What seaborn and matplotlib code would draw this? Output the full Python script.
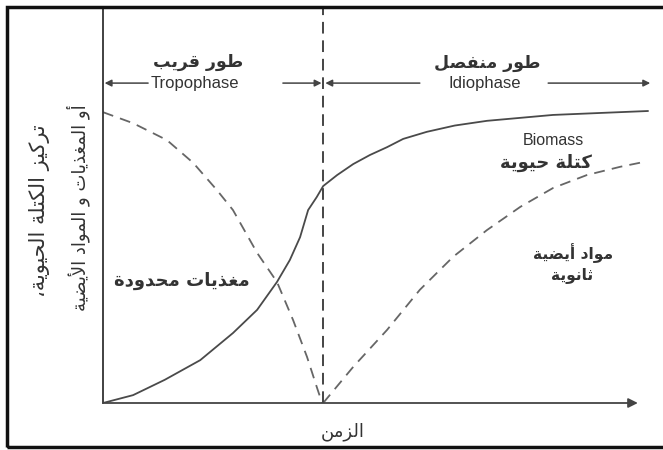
import numpy as np
import pandas as pd
import seaborn as sns
import matplotlib
matplotlib.use("Agg")
import matplotlib.pyplot as plt
from matplotlib.patches import Rectangle

# ---------------- data ----------------
# time axis: 0 .. ~10 (arbitrary units), concentration: 0 .. ~100
nutrient_t = [0.00, 0.56, 1.19, 1.68, 2.12, 2.42, 2.87, 3.24, 3.54, 3.80, 3.98, 4.08]
nutrient_c = [74.0, 71.2, 66.9, 61.1, 54.2, 49.1, 38.2, 30.8, 21.1, 11.7, 4.1, 0.0]

biomass_t = [0.00, 0.56, 1.15, 1.81, 2.42, 2.87, 3.24, 3.48, 3.67, 3.82, 3.98, 4.10,
             4.36, 4.66, 4.97, 5.29, 5.59, 6.03, 6.55, 7.15, 8.38, 9.26, 10.15]
biomass_c = [0.0, 2.0, 5.9, 10.9, 17.8, 23.7, 30.8, 36.4, 42.2, 49.1, 52.4, 55.2,
             58.0, 60.8, 63.1, 65.1, 67.2, 69.0, 70.6, 71.8, 73.3, 73.8, 74.3]

secondary_t = [4.10, 4.66, 5.29, 5.90, 6.52, 7.15, 7.77, 8.38, 9.01, 9.63, 10.06]
secondary_c = [0.0, 9.2, 18.6, 28.8, 37.2, 44.0, 49.9, 54.7, 58.0, 60.1, 61.3]

phase_boundary = 4.10

label_tropo_ar = "طور قريب"
label_tropo_en = "Tropophase"
label_idio_ar = "طور منفصل"
label_idio_en = "Idiophase"
label_biomass_en = "Biomass"
label_biomass_ar = "كتلة حيوية"
label_nutrient_ar = "مغذيات محدودة"
label_secondary_ar = ["مواد أيضية", "ثانوية"]
xlabel_ar = "الزمن"
ylabel_ar = ["تركيز الكتلة الحيوية،", "أو المغذيات و المواد الأيضية"]

# ---------------- minimal Arabic shaping (presentation forms) ----------------
DUAL = {'ب': 0xFE8F, 'ت': 0xFE95, 'ث': 0xFE99, 'ج': 0xFE9D, 'ح': 0xFEA1, 'خ': 0xFEA5,
        'س': 0xFEB1, 'ش': 0xFEB5, 'ص': 0xFEB9, 'ض': 0xFEBD, 'ط': 0xFEC1, 'ظ': 0xFEC5,
        'ع': 0xFEC9, 'غ': 0xFECD, 'ف': 0xFED1, 'ق': 0xFED5, 'ك': 0xFED9, 'ل': 0xFEDD,
        'م': 0xFEE1, 'ن': 0xFEE5, 'ه': 0xFEE9, 'ي': 0xFEF1}
RIGHT = {'ا': 0xFE8D, 'أ': 0xFE83, 'إ': 0xFE87, 'آ': 0xFE81, 'د': 0xFEA9, 'ذ': 0xFEAB,
         'ر': 0xFEAD, 'ز': 0xFEAF, 'و': 0xFEED, 'ة': 0xFE93}
LAMALEF = {'آ': 0xFEF5, 'أ': 0xFEF7, 'إ': 0xFEF9, 'ا': 0xFEFB}


def shape(text):
    out = []
    i = 0
    n = len(text)
    prev_joins = False
    while i < n:
        ch = text[i]
        nxt = text[i + 1] if i + 1 < n else ''
        if ch == 'ل' and nxt in LAMALEF:
            base = LAMALEF[nxt]
            out.append(chr(base + (1 if prev_joins else 0)))
            prev_joins = False
            i += 2
            continue
        if ch in DUAL or ch in RIGHT:
            next_is_letter = (nxt in DUAL or nxt in RIGHT)
            if ch in DUAL:
                base = DUAL[ch]
                jn = next_is_letter
            else:
                base = RIGHT[ch]
                jn = False
            if prev_joins and jn:
                off = 3
            elif prev_joins:
                off = 1
            elif jn:
                off = 2
            else:
                off = 0
            out.append(chr(base + off))
            prev_joins = jn
        else:
            out.append(ch)
            prev_joins = False
        i += 1
    return ''.join(reversed(out))


# ---------------- figure ----------------
sns.set_theme(style="white")
plt.rcParams['font.family'] = ['DejaVu Sans']

W, H = 663, 450
fig = plt.figure(figsize=(W / 100, H / 100), dpi=100)
fig.patch.set_facecolor('white')

# axes in pixel layout: x=103px -> t=0, 53.7 px per unit; y=403px -> c=0, 3.93 px per unit
px_t = 53.7
px_c = 3.93
ax_left, ax_bottom_px, ax_top_px = 103, 403, 8
ax = fig.add_axes([ax_left / W, (H - ax_bottom_px) / H, (W - ax_left) / W,
                   (ax_bottom_px - ax_top_px) / H])
ax.set_xlim(0, (W - ax_left) / px_t)
ax.set_ylim(0, (ax_bottom_px - ax_top_px) / px_c)
ax.set_facecolor('white')
for s in ['top', 'right', 'bottom']:
    ax.spines[s].set_visible(False)
ax.spines['left'].set_color('#333333')
ax.spines['left'].set_linewidth(1.3)
ax.set_xticks([])
ax.set_yticks([])

df_n = pd.DataFrame({'t': nutrient_t, 'c': nutrient_c})
df_b = pd.DataFrame({'t': biomass_t, 'c': biomass_c})
df_s = pd.DataFrame({'t': secondary_t, 'c': secondary_c})

sns.lineplot(data=df_n, x='t', y='c', ax=ax, color='#666666', lw=1.3,
             sort=False, estimator=None, linestyle=(0, (6, 4)))
sns.lineplot(data=df_b, x='t', y='c', ax=ax, color='#4a4a4a', lw=1.3,
             sort=False, estimator=None)
sns.lineplot(data=df_s, x='t', y='c', ax=ax, color='#666666', lw=1.3,
             sort=False, estimator=None, linestyle=(0, (6, 4)))
ax.set_xlabel('')
ax.set_ylabel('')

ymax = ax.get_ylim()[1]
ax.plot([phase_boundary, phase_boundary], [0, ymax], color='#444444', lw=1.4,
        linestyle=(0, (6, 3.5)), clip_on=False)

# x-axis arrow
ax.annotate('', xy=(9.96, 0), xytext=(0, 0),
            arrowprops=dict(arrowstyle='-|>', color='#444444', lw=1.3,
                            mutation_scale=14, shrinkA=0, shrinkB=0),
            annotation_clip=False)

# phase arrows
ya = 81.4
arrow_kw = dict(arrowstyle='-|>', color='#444444', lw=1.1, mutation_scale=10,
                shrinkA=0, shrinkB=0)
ax.annotate('', xy=(0.03, ya), xytext=(0.84, ya), arrowprops=arrow_kw)
ax.annotate('', xy=(4.07, ya), xytext=(3.35, ya), arrowprops=arrow_kw)
ax.annotate('', xy=(4.14, ya), xytext=(5.90, ya), arrowprops=arrow_kw)
ax.annotate('', xy=(10.19, ya), xytext=(8.29, ya), arrowprops=arrow_kw)

ar_kw = dict(fontweight='bold', color='#333333', ha='center', va='center')
en_kw = dict(family=['Liberation Sans', 'DejaVu Sans'],
             color='#333333', ha='center', va='center')

ax.text(1.77, 86.8, shape(label_tropo_ar), fontsize=12.5, **ar_kw)
ax.text(1.71, 81.4, label_tropo_en, fontsize=12, **en_kw)
ax.text(7.15, 86.6, shape(label_idio_ar), fontsize=12.5, **ar_kw)
ax.text(7.11, 81.4, label_idio_en, fontsize=12, **en_kw)

ax.text(8.38, 66.7, label_biomass_en, fontsize=11.5, **en_kw)
ax.text(8.25, 61.1, shape(label_biomass_ar), fontsize=13, **ar_kw)
ax.text(1.47, 31.0, shape(label_nutrient_ar), fontsize=13, **ar_kw)
ax.text(8.75, 38.2, shape(label_secondary_ar[0]), fontsize=11.2, **ar_kw)
ax.text(8.73, 32.6, shape(label_secondary_ar[1]), fontsize=11.2, **ar_kw)

ax.text(4.47, -7.4, shape(xlabel_ar), fontsize=13, clip_on=False,
        **dict(ar_kw, fontweight='normal'))

fig.text(40 / W, 1 - 211 / H, shape(ylabel_ar[0]), rotation=90, fontsize=15,
         color='#333333', ha='center', va='center')
fig.text(78 / W, 1 - 208 / H, shape(ylabel_ar[1]), rotation=90, fontsize=13,
         color='#333333', ha='center', va='center')

# outer frame
fig.add_artist(Rectangle((7 / W, 3 / H), 1.0, (447 - 7) / H, transform=fig.transFigure,
                         fill=False, edgecolor='#111111', lw=2.5, clip_on=False))

fig.savefig('out.png', dpi=100, facecolor='white')
